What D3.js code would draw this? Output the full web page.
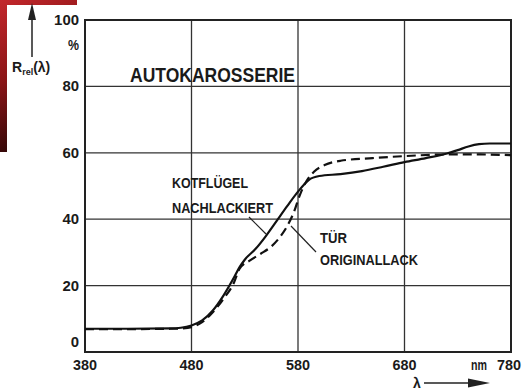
<!DOCTYPE html>
<html>
<head>
<meta charset="utf-8">
<script src="https://cdn.jsdelivr.net/npm/d3@7"></script>
<style>
  html, body { margin: 0; padding: 0; background: #fff; }
  svg { display: block; }
  text { font-family: "Liberation Sans", Arial, sans-serif; font-weight: bold; fill: #1a1a1a; }
</style>
</head>
<body>
<svg id="chart" width="527" height="392"></svg>
<script>
// Relative spectral reflectance of two car body parts
const wavelengths = [380, 420, 460, 470, 480, 490, 500, 510, 520, 525, 530, 540, 550, 560, 570, 580, 590, 600, 620, 640, 660, 680, 700, 720, 730, 740, 750, 760, 780];
const kotfluegel  = [7, 7, 7.1, 7.3, 8, 9.5, 12.5, 17, 22.5, 25.5, 27.8, 31, 35, 39.5, 44, 48.3, 51.8, 53, 53.6, 54.5, 55.8, 57.2, 58.4, 59.8, 60.8, 61.9, 62.6, 62.8, 62.8];
const tuerWl      = [380, 420, 460, 470, 480, 490, 500, 510, 520, 525, 535, 545, 555, 563, 570, 576, 582, 588, 595, 605, 620, 650, 680, 720, 750, 780];
const tuer        = [6.9, 6.9, 7, 7.1, 7.5, 9, 12, 16, 21, 25, 27.6, 29.6, 31.8, 34.6, 38, 42, 47.5, 51.5, 54.3, 56.3, 57.6, 58.4, 59, 59.5, 59.5, 59.3];
const xTicks = [380, 480, 580, 680, 780];
const yTicks = [0, 20, 40, 60, 80, 100];

const svg = d3.select("#chart");

// Condensed lettering: fit a text run to a given width
function fit(sel, w) {
  return sel.attr("textLength", w).attr("lengthAdjust", "spacingAndGlyphs");
}

// Page corner with red backing
const defs = svg.append("defs");
const grad = defs.append("linearGradient").attr("id", "redCorner")
  .attr("x1", "0").attr("y1", "0").attr("x2", "0.3").attr("y2", "1");
grad.append("stop").attr("offset", "0").attr("stop-color", "#c3272b");
grad.append("stop").attr("offset", "0.5").attr("stop-color", "#8a1517");
grad.append("stop").attr("offset", "1").attr("stop-color", "#2a0606");
svg.append("rect").attr("x", 0).attr("y", 0).attr("width", 77).attr("height", 152).attr("fill", "url(#redCorner)");
svg.append("rect").attr("x", 7).attr("y", 5).attr("width", 520).attr("height", 387).attr("fill", "#fff");

const x = d3.scaleLinear().domain([380, 780]).range([85, 511]);
const y = d3.scaleLinear().domain([0, 100]).range([352, 20]);

// Grid
const grid = svg.append("g").attr("stroke", "#333").attr("stroke-width", 1.3);
grid.selectAll("line.v").data(xTicks.slice(1, -1)).join("line")
  .attr("x1", d => x(d)).attr("x2", d => x(d)).attr("y1", y(0)).attr("y2", y(100));
grid.selectAll("line.h").data(yTicks.slice(1, -1)).join("line")
  .attr("x1", x(380)).attr("x2", x(780)).attr("y1", d => y(d)).attr("y2", d => y(d));

// Frame
svg.append("rect").attr("x", x(380)).attr("y", y(100))
  .attr("width", x(780) - x(380)).attr("height", y(0) - y(100))
  .attr("fill", "none").attr("stroke", "#222").attr("stroke-width", 2);

// Y tick labels
svg.append("g").selectAll("text").data(yTicks).join("text")
  .attr("x", 79).attr("y", d => d === 0 ? y(d) - 5 : y(d) + 5)
  .attr("text-anchor", "end").attr("font-size", 15)
  .each(function(d) { fit(d3.select(this), String(d).length * 8.3); })
  .text(d => d);
fit(svg.append("text").attr("x", 68).attr("y", 50).attr("font-size", 15), 11).text("%");

// X tick labels
svg.append("g").selectAll("text").data(xTicks).join("text")
  .attr("x", d => (d === 780 ? x(d) - 2 : x(d)) - 12).attr("y", 370)
  .attr("font-size", 15)
  .each(function() { fit(d3.select(this), 24); })
  .text(d => d);
fit(svg.append("text").attr("x", 471).attr("y", 370).attr("font-size", 15), 16).text("nm");

// Axis captions with arrows
svg.append("line").attr("x1", 32).attr("x2", 32).attr("y1", 18).attr("y2", 57).attr("stroke", "#222").attr("stroke-width", 1.5);
svg.append("path").attr("d", "M32,3 L28,20 L36,20 Z").attr("fill", "#222");
const rl = svg.append("text").attr("x", 12).attr("y", 72).attr("font-size", 14);
rl.append("tspan").text("R");
rl.append("tspan").attr("font-size", 9).attr("dy", 3).text("rel");
rl.append("tspan").attr("dy", -3).text("(λ)");

svg.append("text").attr("x", 413).attr("y", 388).attr("font-size", 14).text("λ");
svg.append("line").attr("x1", 424).attr("x2", 472).attr("y1", 383).attr("y2", 383).attr("stroke", "#222").attr("stroke-width", 1.5);
svg.append("path").attr("d", "M490,383 L468,378.5 L468,387.5 Z").attr("fill", "#222");

// Curves
const line = d3.line().curve(d3.curveMonotoneX).x(d => x(d[0])).y(d => y(d[1]));
svg.append("path").datum(d3.zip(tuerWl, tuer)).attr("d", line)
  .attr("fill", "none").attr("stroke", "#111").attr("stroke-width", 2.2).attr("stroke-dasharray", "9,5");
svg.append("path").datum(d3.zip(wavelengths, kotfluegel)).attr("d", line)
  .attr("fill", "none").attr("stroke", "#111").attr("stroke-width", 2.2);

// Title and curve labels
fit(svg.append("text").attr("x", 130).attr("y", 82).attr("font-size", 20), 165).text("AUTOKAROSSERIE");
const lab = svg.append("g").attr("font-size", 14);
fit(lab.append("text").attr("x", 172).attr("y", 188), 76).text("KOTFLÜGEL");
fit(lab.append("text").attr("x", 172).attr("y", 213), 101).text("NACHLACKIERT");
fit(lab.append("text").attr("x", 320).attr("y", 243), 27).text("TÜR");
fit(lab.append("text").attr("x", 320).attr("y", 265), 98).text("ORIGINALLACK");

// Leader lines to the curves
const lead = svg.append("g").attr("stroke", "#222").attr("stroke-width", 1.2);
lead.append("line").attr("x1", 249).attr("y1", 217).attr("x2", 266).attr("y2", 234);
lead.append("line").attr("x1", 291).attr("y1", 226).attr("x2", 316).attr("y2", 252);
</script>
</body>
</html>
